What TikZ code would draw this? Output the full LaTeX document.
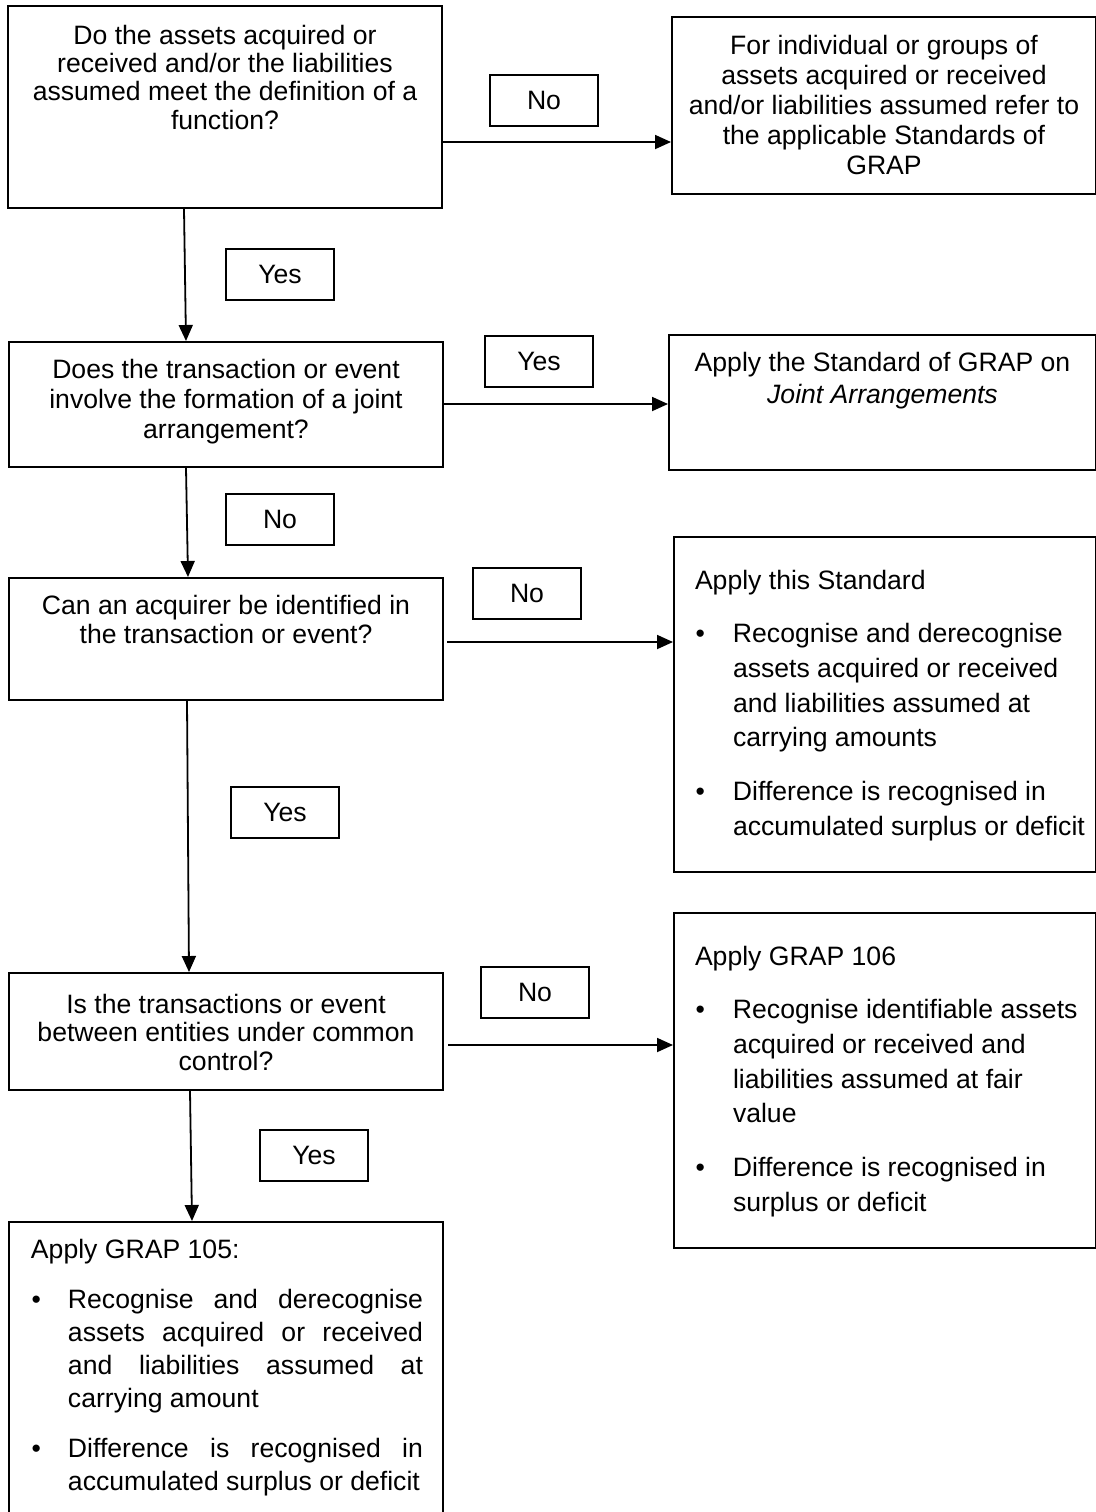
\documentclass[tikz,border=0pt]{standalone}
\usepackage{fontspec}
\setmainfont{Liberation Sans}
\usetikzlibrary{arrows.meta}
\newdimen\px \px=0.5pt
% question box text: width(px), height(px), first baseline (pt), baselineskip (pt), text
\newcommand\qtext[5]{\parbox[c][#2\px][t]{#1\px}{\fontsize{13.3}{#4}\selectfont\centering\rule{0pt}{#3pt}#5\par}}
\newcommand\bul[1]{\noindent\llap{\textbullet\hspace{#1\px}}}
\tikzset{
  box/.style={draw, line width=1pt, inner sep=0pt, anchor=north west},
  lbl/.style={draw, line width=1pt, inner sep=0pt, minimum width=54pt, minimum height=25.5pt,
              anchor=north west, font=\fontsize{13.3}{15}\selectfont},
  arr/.style={line width=0.9pt, -{Triangle[length=8pt,width=7pt]}},
}
\begin{document}
\begin{tikzpicture}[x=0.5pt,y=-0.5pt]
\useasboundingbox (0,0) rectangle (1096,1512);
% left column (questions)
\node[box] (A) at (7,5) {\qtext{434}{202}{19}{14.2}{Do the assets acquired or\\ received and/or the liabilities\\ assumed meet the definition of a\\ function?}};
\node[box] (C) at (8,341) {\qtext{434}{125}{18}{15}{Does the transaction or event\\ involve the formation of a joint\\ arrangement?}};
\node[box] (E) at (8,577) {\qtext{434}{122}{18}{14.5}{Can an acquirer be identified in\\ the transaction or event?}};
\node[box] (G) at (8,972) {\qtext{434}{117}{20}{14.25}{Is the transactions or event\\ between entities under common\\ control?}};
\node[box] (I) at (8,1221) {\parbox[c][330\px][t]{434\px}{\fontsize{13.3}{16.5}\selectfont\raggedright\parskip=8.5pt
  \rule{0pt}{18pt}\hspace*{22\px}Apply GRAP 105:\par
  \leftskip=59\px
  \bul{27}\makebox[355\px][s]{Recognise and derecognise}\\
  \makebox[355\px][s]{assets acquired or received}\\
  \makebox[355\px][s]{and liabilities assumed at}\\
  carrying amount\par
  \bul{27}\makebox[355\px][s]{Difference is recognised in}\\
  accumulated surplus or deficit\par}};
% right column (outcomes)
\node[box] (B) at (671,16) {\qtext{424}{177}{18.5}{15}{For individual or groups of\\ assets acquired or received\\ and/or liabilities assumed refer to\\ the applicable Standards of\\ GRAP}};
\node[box] (D) at (668,334) {\qtext{427}{135}{18}{16}{Apply the Standard of GRAP on\\ \textit{Joint Arrangements}}};
\node[box] (F) at (673,536) {\parbox[c][335\px][t]{422\px}{\fontsize{13.3}{17.4}\selectfont\raggedright\parskip=9.3pt
  \rule{0pt}{26pt}\hspace*{21\px}Apply this Standard\par
  \leftskip=59\px
  \bul{28}Recognise and derecognise\\ assets acquired or received\\ and liabilities assumed at\\ carrying amounts\par
  \bul{28}Difference is recognised in\\ accumulated surplus or deficit\par}};
\node[box] (H) at (673,912) {\parbox[c][335\px][t]{422\px}{\fontsize{13.3}{17.4}\selectfont\raggedright\parskip=9.3pt
  \rule{0pt}{26pt}\hspace*{21\px}Apply GRAP 106\par
  \leftskip=59\px
  \bul{28}Recognise identifiable assets\\ acquired or received and\\ liabilities assumed at fair\\ value\par
  \bul{28}Difference is recognised in\\ surplus or deficit\par}};
% labels
\node[lbl] (l1) at (489,74) {No};
\node[lbl] (l2) at (225,248) {Yes};
\node[lbl] (l3) at (484,335) {Yes};
\node[lbl] (l4) at (225,493) {No};
\node[lbl] (l5) at (472,567) {No};
\node[lbl] (l6) at (230,786) {Yes};
\node[lbl] (l7) at (480,966) {No};
\node[lbl] (l8) at (259,1129) {Yes};
% connectors
\draw[arr] ([yshift=-68.5pt]A.north east) -- ([yshift=-63pt]B.north west);
\draw[arr] ([xshift=88.5pt]A.south west) -- ([xshift=89pt]C.north west);
\draw[arr] ([yshift=-31.5pt]C.north east) -- ([yshift=-35pt]D.north west);
\draw[arr] ([xshift=89pt]C.south west) -- ([xshift=90pt]E.north west);
\draw[arr, shorten <=1.5pt] ([yshift=-32.5pt]E.north east) -- ([yshift=-53pt]F.north west);
\draw[arr] ([xshift=89.5pt]E.south west) -- ([xshift=90.5pt]G.north west);
\draw[arr, shorten <=2pt] ([yshift=-36.5pt]G.north east) -- ([yshift=-66.5pt]H.north west);
\draw[arr] ([xshift=91pt]G.south west) -- ([xshift=92pt]I.north west);
\end{tikzpicture}
\end{document}
